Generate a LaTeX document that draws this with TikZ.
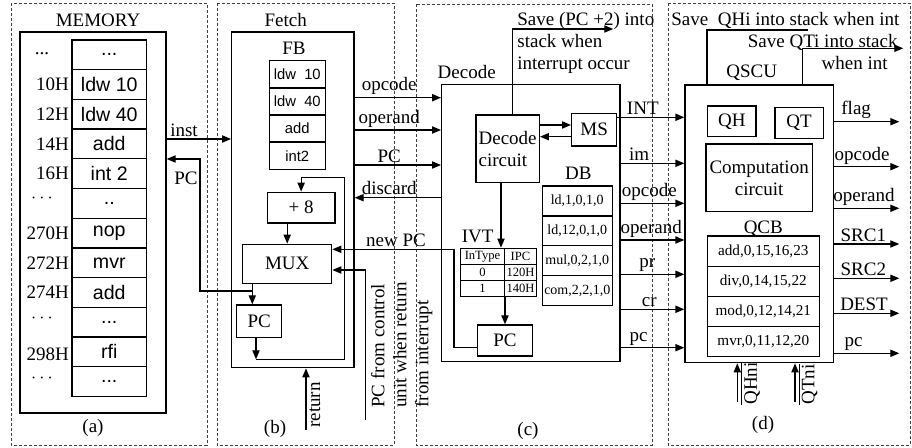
\documentclass[tikz,border=0pt]{standalone}
\usepackage{fontspec}
\setmainfont{Liberation Serif}
\newfontfamily\arialf{Liberation Sans}
\usetikzlibrary{arrows.meta,positioning}

\newcommand\ddd{...}

\tikzset{
  blk/.style={draw, line width=0.65pt, inner sep=0pt, align=center},
  cell/.style={draw, line width=0.65pt, inner sep=0pt},
  panel/.style={draw=black!75, line width=0.4pt, dash pattern=on 1.5pt off 1pt},
  arr/.style={-{Triangle[length=4.5pt,width=3.6pt]}, line width=0.65pt},
  wire/.style={line width=0.65pt},
  lbl/.style={inner sep=1pt, anchor=south},
}

\begin{document}
\begin{tikzpicture}[x=0.5pt, y=-0.5pt, font=\fontsize{9.5}{11}\selectfont]
  \useasboundingbox (0,0) rectangle (912,448);

  % the four panels
  \draw[panel] (11,3) rectangle (207,445);
  \draw[panel] (217,3) rectangle (394,445);
  \draw[panel] (416,4) rectangle (652,445);
  \draw[panel] (668,3) rectangle (910,445);
  \node at (93,428) {(a)};
  \node at (275,429) {(b)};
  \node at (528,431) {(c)};
  \node at (763,425) {(d)};

  % (a) memory
  \node[blk, minimum width=73pt, minimum height=190.5pt] (mem) at (93,222.5) {};
  \node at (98,20) {MEMORY};
  \foreach \t [count=\i] in {\ddd,ldw 10,ldw 40,add,int 2,..,nop,mvr,add,\ddd,rfi,\ddd}
    \node[cell, minimum width=37.25pt, minimum height=14.85pt,
          font=\arialf\fontsize{9.8}{11}\selectfont] (m\i) at (109.25,{40+29.7*(\i-0.5)}) {\t};
  \foreach \a/\r in {10H/2,12H/3,14H/4,16H/5,270H/7,272H/8,274H/9}
    \node[anchor=east, inner sep=1pt] at (m\r.west) {\a};
  \node at (42,54) {...};
  \node at (42,198) {$\cdots$};
  \node at (42,318) {$\cdots$};
  \node[anchor=east, inner sep=1pt] at (m11.west |- 0,354) {298H};
  \node[inner sep=0.5pt] at (42,378) {$\cdots$};

  % (b) fetch
  \node[blk, minimum width=61.15pt, minimum height=167.85pt] (fetch) at (292.85,199.85) {};
  \node at (285.7,20) {Fetch};
  \node at (294,48) {FB};
  \foreach \t [count=\i] in {ldw~~10,ldw~~40,add,int2}
    \node[cell, minimum width=28pt, minimum height=13.6pt,
          font=\arialf\fontsize{7.4}{9}\selectfont] (fb\i) at (297.3,{60.7+27.15*(\i-0.5)}) {\t};
  \node[blk, minimum width=33.85pt, minimum height=15.35pt] (plus) at (301.15,207.65) {+ 8};
  \node[blk, minimum width=44.5pt, minimum height=19.5pt] (mux) at (287.2,263.8) {MUX};
  \node[blk, minimum width=22.5pt, minimum height=16.15pt] (fpc) at (259.2,321.15) {PC};

  % (c) decode
  \node[blk, minimum width=89.15pt, minimum height=138.7pt] (dec) at (530.85,223) {};
  \node at (466.7,71.7) {Decode};
  \node[blk, minimum width=31.65pt, minimum height=33.85pt, align=left] (dc) at (507.65,148.85) {Decode\\circuit};
  \node[blk, minimum width=22.5pt, minimum height=16.35pt] (ms) at (594.2,129.65) {MS};
  \node at (578.3,173.3) {DB};
  \foreach \t [count=\i] in {{ld,1,0,1,0},{ld,12,0,1,0},{mul,0,2,1,0},{com,2,2,1,0}}
    \node[cell, minimum width=35pt, minimum height=14.95pt,
          font=\fontsize{7}{8}\selectfont] (db\i) at (577.3,{186+29.9*(\i-0.5)}) {\t};
  \node at (477.7,236.7) {IVT};
  \foreach \a/\b [count=\i] in {InType/IPC,0/120H,1/140H}{
    \node[cell, minimum width=21.8pt, minimum height=8.07pt,
          font=\fontsize{6.3}{7}\selectfont] (ivta\i) at (482.5,{248.3+16.13*(\i-0.5)}) {\a};
    \node[cell, minimum width=16.2pt, minimum height=8.07pt,
          font=\fontsize{6.3}{7}\selectfont] (ivtb\i) at (520.5,{248.3+16.13*(\i-0.5)}) {\b};
  }
  \node[blk, minimum width=27.7pt, minimum height=15.5pt] (dpc) at (505,340.5) {PC};
  \node[anchor=north west, align=left, inner sep=0] at (517,12) {Save (PC +2) into\\stack when\\interrupt occur};

  % (d) QSCU
  \node[blk, minimum width=74.15pt, minimum height=138.85pt] (qscu) at (759.15,223.85) {};
  \node at (751.7,72.7) {QSCU};
  \node[blk, minimum width=24.15pt, minimum height=15.35pt] (qh) at (731.85,121.35) {QH};
  \node[blk, minimum width=24.15pt, minimum height=15.5pt] (qt) at (799.15,122.8) {QT};
  \node[blk, minimum width=53.15pt, minimum height=33.85pt] (cc) at (759.15,177.85) {Computation\\circuit};
  \node at (763.3,228.3) {QCB};
  \foreach \t [count=\i] in {{add,0,15,16,23},{div,0,14,15,22},{mod,0,12,14,21},{mvr,0,11,12,20}}
    \node[cell, minimum width=56pt, minimum height=15.08pt,
          font=\fontsize{7.6}{9}\selectfont] (qcb\i) at (763.3,{236+30.17*(\i-0.5)}) {\t};
  \node[anchor=west, inner sep=0] at (671,20) {Save\ \ QHi into stack when int};
  \node[anchor=north east, align=right, inner sep=0] at (898,34) {Save QTi into stack\\when int\hspace*{5pt}};

  % memory <-> fetch
  \draw[arr] (mem.east |- 0,139) -- (fetch.west |- 0,139) node[lbl, pos=0.27] {inst};
  \coordinate (pcj) at (252.3,291);
  \draw[arr] (pcj) -| (200,159) -- (mem.east |- 0,159);
  \node at (186,178) {PC};

  % inside fetch
  \draw[arr] (plus.south -| mux.north) -- (mux.north);
  \draw[arr] (mux.south -| pcj) -- (fpc.north -| pcj);
  \coordinate (lp) at (256,359.3);
  \draw[arr] (fpc.south -| lp) -- (lp);
  \draw[arr] (lp) -| (344.3,177.7) -| (plus.north);

  % fetch <-> decode
  \foreach \t/\y in {opcode/97.7,operand/130,PC/165}
    \draw[arr] (fetch.east |- 0,\y) -- (dec.west |- 0,\y) node[lbl, pos=0.4] {\t};
  \draw[arr] (dec.west |- 0,197.7) -- (fetch.east |- 0,197.7) node[lbl, pos=0.6] {discard};
  \draw[arr] (dpc.west |- 0,347.3) -| (454,249.3) -- (mux.east |- 0,249.3);
  \node[lbl] at (396,249.3) {new PC};
  \coordinate (ctl) at (365.7,420);
  \draw[arr] (ctl) |- (mux.east |- 0,270);
  \node[rotate=90, align=left, anchor=west, inner sep=0] at (401.7,408) {PC from control\\unit when return\\from interrupt};
  \coordinate (ret) at (306,430);
  \draw[arr] (ret) -- (fetch.south -| ret);
  \node[rotate=90, anchor=north west, inner sep=0] at (309,428) {return};

  % inside decode
  \draw[arr] (dc.east |- 0,125) -- (ms.west |- 0,125);
  \draw[arr] (ms.west |- 0,136.7) -- (dc.east |- 0,136.7);
  \coordinate (sv) at (613.3,29);
  \draw[arr] ([xshift=2.3pt]dc.north) |- (sv);
  \draw[arr] (dc.south -| 501,0) -- (ivta1.north -| 501,0);
  \draw[arr] (ivta3.south -| dpc.north) -- (dpc.north);

  % decode -> QSCU
  \draw[arr] (ms.east |- 0,117.3) -- (qscu.west |- 0,117.3) node[lbl, pos=0.38] {INT};
  \foreach \t/\y/\p in {im/163.3/0.29,opcode/203.3/0.45,operand/240/0.48,pr/274.3/0.42,cr/309.3/0.45,pc/347.7/0.28}
    \draw[arr] (dec.east |- 0,\y) -- (qscu.west |- 0,\y) node[lbl, pos=\p] {\t};

  % QSCU outputs
  \foreach \t/\y/\p [count=\i] in {flag/121.7/0.34,opcode/166.7/0.43,operand/208.3/0.46,SRC1/244/0.45,SRC2/278.3/0.45,DEST/313.3/0.46,pc/353.3/0.3}{
    \coordinate (out\i) at (899.3,\y);
    \draw[arr] (qscu.east |- out\i) -- (out\i) node[lbl, pos=\p] {\t};
  }
  \coordinate (sqh) at (808,30);
  \draw[wire] (qh.west |- qscu.north) |- (sqh);
  \coordinate (sqt) at (903.3,48.3);
  \draw[arr] (qscu.north -| 802.3,0) |- (sqt);
  \coordinate (qhn) at (737.3,401.7);
  \draw[arr] (qhn) -- (qscu.south -| qhn);
  \node[rotate=90, anchor=north west, inner sep=0] at (740,405) {$\overline{\mbox{QHni}}$};
  \coordinate (qtn) at (795,401.7);
  \draw[arr] (qtn) -- (qscu.south -| qtn);
  \node[rotate=90, anchor=north west, inner sep=0] at (797.5,405) {$\overline{\mbox{QTni}}$};
\end{tikzpicture}
\end{document}
